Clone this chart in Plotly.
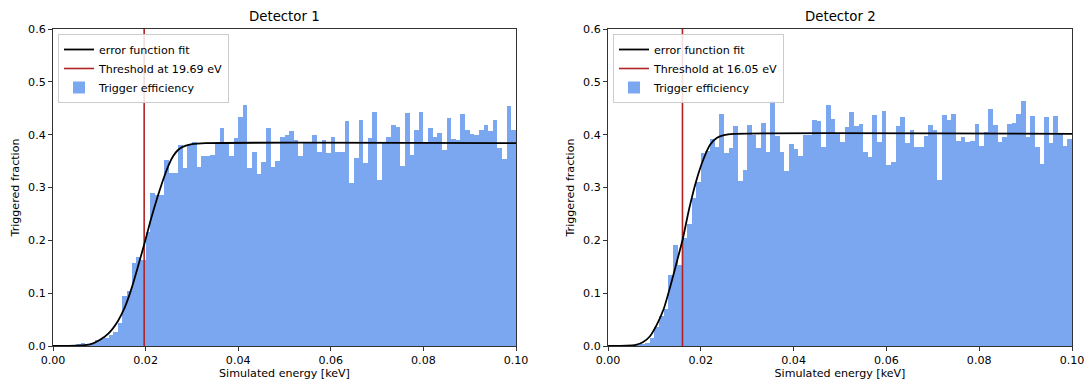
import numpy as np
import plotly.graph_objects as go

# ---------------- data ----------------
bin_width = 0.001  # keV
n_bins = 100
bin_centers = (np.arange(n_bins) + 0.5) * bin_width

det1_fraction = [
    0, 0, 0, 0, 0, 0.002, 0.005, 0.003, 0.006, 0.012,
    0.014, 0.016, 0.020, 0.027, 0.043, 0.095, 0.105, 0.158, 0.168, 0.163,
    0.215, 0.290, 0.286, 0.286, 0.352, 0.327, 0.327, 0.381, 0.336, 0.381,
    0.387, 0.339, 0.360, 0.360, 0.361, 0.387, 0.412, 0.387, 0.360, 0.394,
    0.434, 0.456, 0.337, 0.367, 0.326, 0.349, 0.412, 0.338, 0.351, 0.396,
    0.400, 0.407, 0.390, 0.359, 0.385, 0.385, 0.399, 0.368, 0.390, 0.366,
    0.395, 0.368, 0.367, 0.425, 0.308, 0.355, 0.428, 0.346, 0.393, 0.442,
    0.314, 0.385, 0.396, 0.418, 0.415, 0.340, 0.441, 0.362, 0.408, 0.442,
    0.385, 0.412, 0.395, 0.403, 0.371, 0.431, 0.392, 0.390, 0.439, 0.408,
    0.401, 0.400, 0.408, 0.418, 0.407, 0.427, 0.374, 0.354, 0.454, 0.409,
]

det2_fraction = [
    0, 0, 0, 0, 0, 0, 0.001, 0.002, 0.006, 0.016,
    0.036, 0.057, 0.070, 0.134, 0.191, 0.154, 0.205, 0.230, 0.280, 0.311,
    0.365, 0.369, 0.391, 0.377, 0.439, 0.365, 0.374, 0.417, 0.313, 0.334,
    0.419, 0.400, 0.374, 0.422, 0.367, 0.463, 0.398, 0.368, 0.332, 0.382,
    0.372, 0.360, 0.400, 0.400, 0.428, 0.425, 0.376, 0.456, 0.429, 0.404,
    0.387, 0.414, 0.442, 0.417, 0.420, 0.368, 0.357, 0.437, 0.387, 0.445,
    0.343, 0.349, 0.417, 0.434, 0.385, 0.408, 0.376, 0.377, 0.398, 0.418,
    0.409, 0.314, 0.437, 0.428, 0.439, 0.388, 0.395, 0.387, 0.388, 0.421,
    0.378, 0.406, 0.448, 0.419, 0.387, 0.396, 0.420, 0.423, 0.439, 0.463,
    0.396, 0.436, 0.376, 0.344, 0.434, 0.385, 0.436, 0.403, 0.379, 0.392,
]

# error-function fit curves
fit1_energy = [0.0, 0.005, 0.008, 0.010, 0.012, 0.014, 0.0155, 0.017, 0.0185,
               0.0197, 0.021, 0.0225, 0.024, 0.025, 0.026, 0.027, 0.028,
               0.030, 0.033, 0.1]
fit1_fraction = [0.0, 0.0005, 0.003, 0.011, 0.024, 0.047, 0.073, 0.110, 0.155,
                 0.192, 0.235, 0.280, 0.320, 0.343, 0.360, 0.371, 0.377,
                 0.382, 0.384, 0.384]

fit2_energy = [0.0, 0.004, 0.006, 0.0075, 0.009, 0.0105, 0.012, 0.0135, 0.015,
               0.01605, 0.0175, 0.019, 0.0205, 0.022, 0.0235, 0.025, 0.027, 0.1]
fit2_fraction = [0.0, 0.0005, 0.002, 0.007, 0.018, 0.040, 0.070, 0.115, 0.165,
                 0.200, 0.260, 0.312, 0.352, 0.381, 0.394, 0.399, 0.4015, 0.4015]

thresholds_kev = [0.01969, 0.01605]
threshold_labels = ["Threshold at 19.69 eV", "Threshold at 16.05 eV"]
titles = ["Detector 1", "Detector 2"]

x_ticks = [0.0, 0.02, 0.04, 0.06, 0.08, 0.10]
x_tick_labels = ["0.00", "0.02", "0.04", "0.06", "0.08", "0.10"]
y_ticks = [0.0, 0.1, 0.2, 0.3, 0.4, 0.5, 0.6]
y_tick_labels = ["0.0", "0.1", "0.2", "0.3", "0.4", "0.5", "0.6"]

# ---------------- style ----------------
FONT = "DejaVu Sans"
FS = 11.1
TITLE_FS = 13.3
BAR_COLOR = "rgb(123,167,240)"
RED = "rgb(178,34,34)"
AXCOL = "#333333"

W, H = 1086, 383
ML, MR, MT, MB = 53, 14, 29, 37
plot_w = W - ML - MR
plot_h = H - MT - MB
dom1 = [0.0, (516 - ML) / plot_w]
dom2 = [(608 - ML) / plot_w, 1.0]

fig = go.Figure()

panels = [
    (det1_fraction, fit1_energy, fit1_fraction, "x", "y", "legend"),
    (det2_fraction, fit2_energy, fit2_fraction, "x2", "y2", "legend2"),
]

for k, (frac, fe, ff, xa, ya, lg) in enumerate(panels):
    fig.add_trace(go.Bar(
        x=bin_centers, y=frac, width=bin_width,
        marker=dict(color=BAR_COLOR, line=dict(width=0)),
        name="Trigger efficiency", xaxis=xa, yaxis=ya, legend=lg,
        legendrank=3,
    ))
for k, (frac, fe, ff, xa, ya, lg) in enumerate(panels):
    fig.add_trace(go.Scatter(
        x=[thresholds_kev[k], thresholds_kev[k]], y=[0, 0.6],
        mode="lines", line=dict(color=RED, width=1.6),
        name=threshold_labels[k], xaxis=xa, yaxis=ya, legend=lg,
        legendrank=2,
    ))
    fig.add_trace(go.Scatter(
        x=fe, y=ff, mode="lines",
        line=dict(color="black", width=1.8, shape="spline", smoothing=0.6),
        name="error function fit", xaxis=xa, yaxis=ya, legend=lg,
        legendrank=1,
    ))

axis_common = dict(
    showline=True, mirror=True, linecolor=AXCOL, linewidth=1,
    ticks="outside", ticklen=4, tickwidth=1, tickcolor=AXCOL,
    showgrid=False, zeroline=False, automargin=False,
    tickfont=dict(family=FONT, size=FS, color="black"),
)

xt = dict(text="Simulated energy [keV]", standoff=2, font=dict(family=FONT, size=FS))
yt = dict(text="Triggered fraction", standoff=6, font=dict(family=FONT, size=FS))

fig.update_layout(
    width=W, height=H,
    margin=dict(l=ML, r=MR, t=MT, b=MB, autoexpand=False),
    plot_bgcolor="white", paper_bgcolor="white",
    bargap=0,
    font=dict(family=FONT, size=FS, color="black"),
    xaxis=dict(domain=dom1, range=[0, 0.1], tickvals=x_ticks, ticktext=x_tick_labels,
               title=xt, anchor="y", **axis_common),
    yaxis=dict(range=[0, 0.6], tickvals=y_ticks, ticktext=y_tick_labels,
               title=yt, anchor="x", **axis_common),
    xaxis2=dict(domain=dom2, range=[0, 0.1], tickvals=x_ticks, ticktext=x_tick_labels,
                title=xt, anchor="y2", **axis_common),
    yaxis2=dict(range=[0, 0.6], tickvals=y_ticks, ticktext=y_tick_labels,
                title=yt, anchor="x2", **axis_common),
    showlegend=True,
)

legend_common = dict(
    xanchor="left", yanchor="top", y=1 - 5 / plot_h,
    bgcolor="rgba(255,255,255,0.85)", bordercolor="#cccccc", borderwidth=1,
    font=dict(family=FONT, size=FS, color="black"),
    tracegroupgap=0, itemwidth=30,
)
fig.update_layout(
    legend=dict(x=dom1[0] + 5 / plot_w, **legend_common),
    legend2=dict(x=dom2[0] + 5 / plot_w, **legend_common),
)

for k, (dom, title) in enumerate(zip([dom1, dom2], titles)):
    fig.add_annotation(
        text=title, xref="paper", yref="paper",
        x=(dom[0] + dom[1]) / 2, y=1, yshift=3,
        xanchor="center", yanchor="bottom", showarrow=False,
        font=dict(family=FONT, size=TITLE_FS, color="black"),
    )

fig.write_html("out.html")
